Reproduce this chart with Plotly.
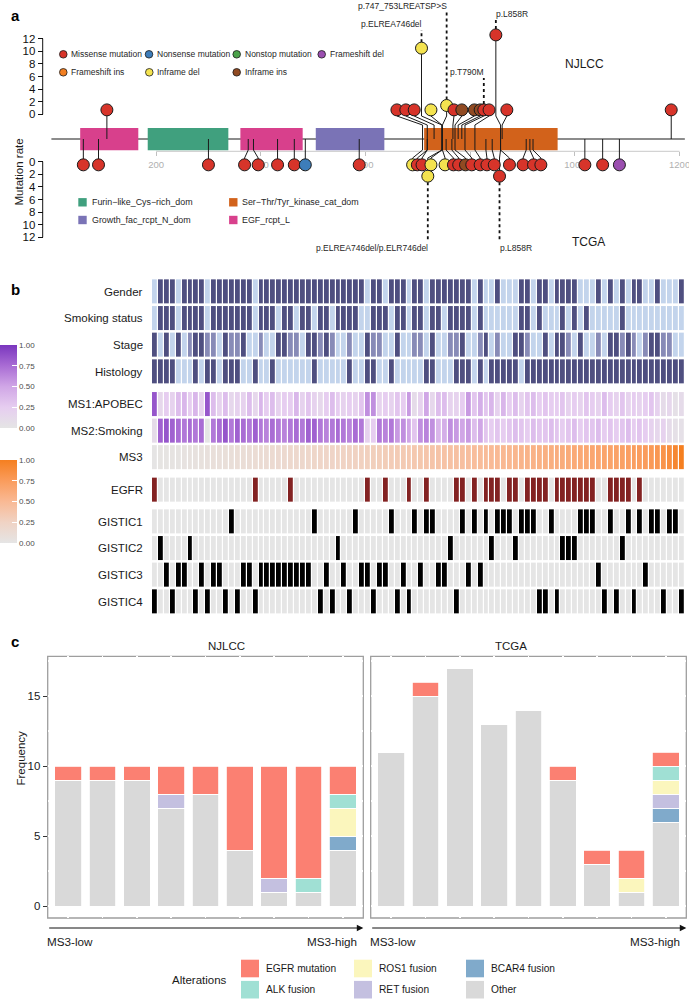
import plotly.graph_objects as go

W, H = 689, 999
FONT = "Liberation Sans, Arial, Helvetica, sans-serif"

# ======================= DATA =======================
# ---- Panel a: EGFR lollipop ----
protein_len = 1210
axis_breaks = [200, 400, 600, 800, 1000, 1200]
rate_ticks = [0, 2, 4, 6, 8, 10, 12]

domain_names = ["EGF_rcpt_L", "Furin−like_Cys−rich_dom", "EGF_rcpt_L",
                "Growth_fac_rcpt_N_dom", "Ser−Thr/Tyr_kinase_cat_dom"]
domain_start = [55, 184, 361, 505, 712]
domain_end = [166, 338, 480, 636, 967]
domain_legend = ["Furin−like_Cys−rich_dom", "Growth_fac_rcpt_N_dom",
                 "Ser−Thr/Tyr_kinase_cat_dom", "EGF_rcpt_L"]

mut_types = ["Missense mutation", "Nonsense mutation", "Nonstop mutation", "Frameshift del",
             "Frameshift ins", "Inframe del", "Inframe ins"]

# NJLCC (top track): actual residue, displayed residue, mutation rate, type
nj_pos = [106, 709, 718, 731, 746, 746, 747, 767, 771, 777, 784, 790, 809, 858, 861, 1184]
nj_disp = [106, 660, 677, 693, 707, 725, 755, 769, 784, 808, 819, 826, 836, 849, 870, 1184]
nj_rate = [0.7, 0.7, 0.7, 0.7, 10.5, 0.7, 1.4, 0.7, 0.7, 0.7, 0.7, 0.7, 0.7, 12.6, 0.7, 0.7]
nj_type = ["Missense mutation", "Missense mutation", "Missense mutation", "Missense mutation",
           "Inframe del", "Inframe del", "Inframe del", "Missense mutation",
           "Inframe ins", "Inframe ins", "Inframe ins", "Missense mutation",
           "Missense mutation", "Missense mutation", "Missense mutation", "Missense mutation"]

# TCGA (bottom track)
tc_pos = [61, 90, 300, 376, 386, 432, 464, 485, 588, 709, 718, 718, 746, 746, 747, 754, 765,
          771, 790, 809, 830, 842, 858, 858, 907, 914, 920, 1019, 1053, 1085]
tc_disp = [61, 90, 300, 369, 395, 432, 464, 485, 588, 690, 699, 708, 719, 725, 752, 768, 778,
           791, 803, 819, 832, 846, 856, 875, 901, 921, 935, 1019, 1053, 1085]
tc_rate = [0.5, 0.5, 0.5, 0.5, 0.5, 0.5, 0.5, 0.5, 0.5, 0.5, 0.5, 0.5, 2.3, 0.5, 0.5, 0.5, 0.5,
           0.5, 0.5, 0.5, 0.5, 0.5, 2.3, 0.5, 0.5, 0.5, 0.5, 0.5, 0.5, 0.5]
tc_type = ["Missense mutation", "Missense mutation", "Missense mutation", "Missense mutation",
           "Missense mutation", "Missense mutation", "Missense mutation", "Nonsense mutation",
           "Missense mutation", "Inframe del", "Missense mutation", "Missense mutation",
           "Inframe del", "Inframe del", "Inframe del", "Missense mutation", "Missense mutation",
           "Inframe ins", "Missense mutation", "Missense mutation", "Missense mutation",
           "Missense mutation", "Missense mutation", "Missense mutation", "Missense mutation",
           "Missense mutation", "Missense mutation", "Missense mutation", "Missense mutation",
           "Frameshift del"]

label_text = ["p.747_753LREATSP>S", "p.ELREA746del", "p.L858R", "p.T790M",
              "p.ELREA746del/p.ELR746del", "p.L858R"]
label_disp = [755, 707, 849, 826, 719, 856]
label_track = ["NJLCC", "NJLCC", "NJLCC", "NJLCC", "TCGA", "TCGA"]

# ---- Panel b: heatmap (90 NJLCC samples ordered by MS3) ----
row_names = ["Gender", "Smoking status", "Stage", "Histology", "MS1:APOBEC", "MS2:Smoking",
             "MS3", "EGFR", "GISTIC1", "GISTIC2", "GISTIC3", "GISTIC4"]
gender = ("LDDDLDDDDLDDDDDDDLDDDDD" "DDDDDDDDDDDDDLDDLDDDLD"
          "DLDDDDDDDLDLLDLLLDDLDDL" "DDDDLLLDLDLDLDDLLDLLLD")
smoking = ("LDDDLDDDDLDDDDDDDLDDDLD" "DLDDLDDLDDDDLLDDDLDDLD"
           "DLDDLDDDDLDLLLLLLDDLDLL" "LDLDLDLLLLLDLLLLLLLLLL")
stage = ("DLDLDLMDDMMLDMMDLLMLLDD" "MMLDDMDMLLMLLDMMLLDLLM"
         "MLDLLMMDLLMDLMLLDDMLLDL" "DDMLDLLMLDDMDMLMDDMMLL")
histology = ("DDDDLLLDLDDLDDDLLDLLDLL" "LLLLDLLLLLDLLDDLLDLLLL"
             "LDDLLLDDDLDLDDDDDLDDDDD" "DDDDDDDDDDDDDDDDDDDDDD")
ms1 = [0.85, 0.15, 0.25, 0.2, 0.35, 0.4, 0.25, 0.4, 0.2, 0.85, 0.35, 0.2, 0.35, 0.15, 0.2, 0.2,
       0.35, 0.15, 0.4, 0.25, 0.35, 0.2, 0.25,
       0.25, 0.4, 0.2, 0.3, 0.2, 0.15, 0.25, 0.35, 0.25, 0.2, 0.25, 0.2, 0.3, 0.6, 0.6, 0.2, 0.25,
       0.2, 0.3, 0.25, 0.55, 0.1,
       0.2, 0.5, 0.15, 0.35, 0.35, 0.2, 0.2, 0.25, 0.55, 0.3, 0.45, 0.3, 0.4, 0.2, 0.4, 0.25,
       0.35, 0.2, 0.3, 0.35, 0.25, 0.3, 0.25,
       0.25, 0.3, 0.2, 0.25, 0.2, 0.3, 0.25, 0.2, 0.35, 0.25, 0.2, 0.3, 0.2, 0.25, 0.2, 0.25,
       0.3, 0.2, 0.1, 0.15, 0.05, 0.1]
ms2 = [0.1, 0.8, 0.85, 0.8, 0.75, 0.7, 0.75, 0.7, 0.75, 0.0, 0.7, 0.75, 0.85, 0.7, 0.8, 0.75,
       0.7, 0.8, 0.7, 0.65, 0.75, 0.7, 0.65,
       0.7, 0.75, 0.7, 0.8, 0.8, 0.7, 0.65, 0.7, 0.75, 0.7, 0.65, 0.75, 0.7, 0.2, 0.25, 0.7,
       0.65, 0.7, 0.55, 0.6, 0.5, 0.3,
       0.6, 0.65, 0.6, 0.4, 0.45, 0.6, 0.55, 0.5, 0.55, 0.35, 0.5, 0.3, 0.25, 0.3, 0.25, 0.3,
       0.35, 0.3, 0.25, 0.35, 0.3, 0.3, 0.35,
       0.3, 0.25, 0.3, 0.35, 0.25, 0.3, 0.3, 0.35, 0.25, 0.3, 0.25, 0.3, 0.35, 0.25, 0.3, 0.25,
       0.2, 0.15, 0.2, 0.1, 0.05, 0.05]
ms3 = [0.01, 0.02, 0.02, 0.03, 0.03, 0.04, 0.05, 0.05, 0.06, 0.07, 0.08, 0.08, 0.09, 0.10,
       0.11, 0.11, 0.12, 0.13, 0.14, 0.14, 0.15, 0.16, 0.17,
       0.18, 0.18, 0.19, 0.20, 0.21, 0.22, 0.22, 0.23, 0.24, 0.25, 0.26, 0.26, 0.27, 0.28, 0.29,
       0.30, 0.31, 0.32, 0.33, 0.34, 0.35, 0.36,
       0.37, 0.38, 0.39, 0.40, 0.41, 0.42, 0.43, 0.44, 0.45, 0.46, 0.47, 0.48, 0.49, 0.50, 0.51,
       0.52, 0.53, 0.54, 0.55, 0.56, 0.57, 0.58, 0.59,
       0.60, 0.61, 0.62, 0.63, 0.64, 0.65, 0.66, 0.67, 0.68, 0.69, 0.70, 0.71, 0.72, 0.73, 0.74,
       0.75, 0.77, 0.79, 0.82, 0.87, 0.93, 1.00]
egfr_mut = [0, 17, 23, 36, 39, 43, 46, 51, 52, 54, 56, 57, 58, 60, 61, 63, 64, 65, 66, 68, 69,
            70, 71, 72, 73, 74, 77, 78, 79, 80, 82]
gistic1 = [13, 27, 34, 40, 44, 46, 47, 52, 54, 56, 58, 59, 60, 62, 63, 64, 67, 72, 73, 74, 77,
           80, 82, 84, 85, 87, 88]
gistic2 = [1, 6, 31, 50, 57, 61, 69, 70, 71, 79]
gistic3 = [2, 4, 5, 8, 10, 11, 15, 16, 18, 19, 20, 21, 22, 23, 24, 25, 26, 29, 32, 35, 36, 38,
           39, 42, 45, 48, 49, 53, 55, 75, 83]
gistic4 = [0, 3, 7, 9, 12, 14, 17, 28, 30, 33, 37, 41, 43, 51, 65, 66, 68, 76, 78, 81, 86, 89]
n_samples = 90
colorbar_ticks = [0, 0.25, 0.5, 0.75, 1.0]

# ---- Panel c: stacked bars ----
alterations = ["Other", "BCAR4 fusion", "RET fusion", "ROS1 fusion", "ALK fusion", "EGFR mutation"]
nj_other = [9, 9, 9, 7, 8, 4, 1, 1, 4]
nj_bcar4 = [0, 0, 0, 0, 0, 0, 0, 0, 1]
nj_ret = [0, 0, 0, 1, 0, 0, 1, 0, 0]
nj_ros1 = [0, 0, 0, 0, 0, 0, 0, 0, 2]
nj_alk = [0, 0, 0, 0, 0, 0, 0, 1, 1]
nj_egfr = [1, 1, 1, 2, 2, 6, 8, 8, 2]
tc_other = [11, 15, 17, 13, 14, 9, 3, 1, 6]
tc_bcar4 = [0, 0, 0, 0, 0, 0, 0, 0, 1]
tc_ret = [0, 0, 0, 0, 0, 0, 0, 0, 1]
tc_ros1 = [0, 0, 0, 0, 0, 0, 0, 1, 1]
tc_alk = [0, 0, 0, 0, 0, 0, 0, 0, 1]
tc_egfr = [0, 1, 0, 0, 0, 1, 1, 2, 1]
freq_ticks = [0, 5, 10, 15]
legend_order = ["EGFR mutation", "ALK fusion", "ROS1 fusion", "RET fusion", "BCAR4 fusion", "Other"]

# ======================= STYLE / LAYOUT =======================
def px2x(p): return p / W
def px2y(p): return 1 - p / H

mut_colors = {"Missense mutation": "#d7342a", "Nonsense mutation": "#3d7dba",
              "Nonstop mutation": "#4aa24a", "Frameshift del": "#9b4fb0",
              "Frameshift ins": "#f27f22", "Inframe del": "#f4e34f", "Inframe ins": "#904a22"}
domain_colors = {"EGF_rcpt_L": "#d8408c", "Furin−like_Cys−rich_dom": "#40a07e",
                 "Growth_fac_rcpt_N_dom": "#7a73b6", "Ser−Thr/Tyr_kinase_cat_dom": "#d2621b"}
alt_colors = {"EGFR mutation": "#fb8072", "ALK fusion": "#a0e0d4", "ROS1 fusion": "#fbf6bd",
              "RET fusion": "#c4c0e0", "BCAR4 fusion": "#80aacb", "Other": "#d9d9d9"}

# panel a vertical scale: u units, backbone at u=0 (px 139), 6.3 px per unit
A_PX0, A_SCALE = 139.0, 6.3
TOP_OFF, BOT_OFF = 3.92, 3.6
def top_u(v): return TOP_OFF + v
def bot_u(v): return -(BOT_OFF + v)
def pxu(p): return (A_PX0 - p) / A_SCALE

fig = go.Figure()
shapes = []
ann = []

# ---------- Panel a ----------
shapes.append(dict(type="line", xref="x", yref="y", x0=0, x1=protein_len, y0=0, y1=0,
                   line=dict(color="#1a1a1a", width=1.2), layer="below"))
shapes.append(dict(type="line", xref="x", yref="y", x0=axis_breaks[0], x1=axis_breaks[-1],
                   y0=pxu(151.3), y1=pxu(151.3), line=dict(color="#c8c8c8", width=1), layer="below"))
for nm, s, e in zip(domain_names, domain_start, domain_end):
    shapes.append(dict(type="rect", xref="x", yref="y", x0=s, x1=e, y0=pxu(150.3), y1=pxu(128),
                       fillcolor=domain_colors[nm], line=dict(width=0), layer="below"))

# stems
sx, sy = [], []
for a, d, v in zip(nj_pos, nj_disp, nj_rate):
    sx += [a, a, d, d, None]
    sy += [0, pxu(125), pxu(116), top_u(v), None]
for a, d, v in zip(tc_pos, tc_disp, tc_rate):
    sx += [a, a, d, d, None]
    sy += [0, pxu(150), pxu(158), bot_u(v), None]
fig.add_trace(go.Scatter(x=sx, y=sy, mode="lines", line=dict(color="#1a1a1a", width=1),
                         hoverinfo="skip", showlegend=False))

# dotted label leaders
LABEL_FONT = dict(size=8.5, color="#262626")
label_y_px = {"p.747_753LREATSP>S": 6, "p.ELREA746del": 24, "p.T790M": 72}
for t, d, tr in zip(label_text, label_disp, label_track):
    right = t != "p.L858R"
    if tr == "NJLCC":
        i = nj_disp.index(d)
        cy = top_u(nj_rate[i])
        ly = label_y_px.get(t, 14)
        fig.add_trace(go.Scatter(x=[d, d], y=[cy, pxu(ly + 6)], mode="lines",
                                 line=dict(color="#111", width=1.8, dash="dot"),
                                 hoverinfo="skip", showlegend=False))
    else:
        i = tc_disp.index(d)
        cy = bot_u(tc_rate[i])
        ly = 248
        fig.add_trace(go.Scatter(x=[d, d], y=[cy, pxu(242)], mode="lines",
                                 line=dict(color="#111", width=1.8, dash="dot"),
                                 hoverinfo="skip", showlegend=False))
    ann.append(dict(x=d, y=pxu(ly), xref="x", yref="y", text=t, showarrow=False,
                    xanchor="right" if right else "left", yanchor="middle",
                    xshift=2 if right else -2, font=LABEL_FONT))

# circles
fig.add_trace(go.Scatter(x=nj_disp, y=[top_u(v) for v in nj_rate], mode="markers",
                         marker=dict(size=12, color=[mut_colors[t] for t in nj_type],
                                     line=dict(color="#1a1a1a", width=1)),
                         hoverinfo="skip", showlegend=False))
fig.add_trace(go.Scatter(x=tc_disp, y=[bot_u(v) for v in tc_rate], mode="markers",
                         marker=dict(size=12, color=[mut_colors[t] for t in tc_type],
                                     line=dict(color="#1a1a1a", width=1)),
                         hoverinfo="skip", showlegend=False))

# y-axis segments for the two tracks
yax_px = 42.7
shapes.append(dict(type="line", xref="paper", yref="y", x0=px2x(yax_px), x1=px2x(yax_px),
                   y0=top_u(0), y1=top_u(12), line=dict(color="#111", width=1)))
shapes.append(dict(type="line", xref="paper", yref="y", x0=px2x(yax_px), x1=px2x(yax_px),
                   y0=bot_u(0), y1=bot_u(12), line=dict(color="#111", width=1)))

# mutation legend
mut_leg_pos = [(63.3, 54.3), (149, 54.3), (236.7, 54.3), (321.7, 54.3),
               (63.3, 72.3), (149.3, 72.3), (236.7, 72.3)]
for t, (cx, cy) in zip(mut_types, mut_leg_pos):
    r = 3.8
    shapes.append(dict(type="circle", xref="paper", yref="paper",
                       x0=px2x(cx - r), x1=px2x(cx + r), y0=px2y(cy + r), y1=px2y(cy - r),
                       fillcolor=mut_colors[t], line=dict(color="#1a1a1a", width=0.8)))
    ann.append(dict(x=px2x(cx + 6), y=px2y(cy), xref="paper", yref="paper", text=t,
                    showarrow=False, xanchor="left", yanchor="middle",
                    font=dict(size=8.5, color="#262626")))

# domain legend
dom_leg_pos = [(82.5, 202.3), (82.5, 220), (233.3, 202.3), (233.3, 220)]
for nm, (cx, cy) in zip(domain_legend, dom_leg_pos):
    r = 4.2
    shapes.append(dict(type="rect", xref="paper", yref="paper",
                       x0=px2x(cx - r), x1=px2x(cx + r), y0=px2y(cy + r), y1=px2y(cy - r),
                       fillcolor=domain_colors[nm], line=dict(width=0)))
    ann.append(dict(x=px2x(cx + 7), y=px2y(cy), xref="paper", yref="paper", text=nm,
                    showarrow=False, xanchor="left", yanchor="middle",
                    font=dict(size=8.9, color="#262626")))

ann.append(dict(x=px2x(606), y=px2y(55), xref="paper", yref="paper", text="NJLCC",
                showarrow=False, font=dict(size=12, color="#1a1a1a")))
ann.append(dict(x=px2x(607), y=px2y(233), xref="paper", yref="paper", text="TCGA",
                showarrow=False, font=dict(size=12, color="#1a1a1a")))
ann.append(dict(x=px2x(10), y=px2y(137), xref="paper", yref="paper", text="Mutation rate",
                showarrow=False, textangle=-90, font=dict(size=11.5, color="#1a1a1a")))

# ---------- Panel b ----------
row_center = [291.5, 318.2, 344.8, 371.5, 404.2, 430.8, 457.3, 489.8, 521.5, 548.2, 574.8, 601.5]
CELL_H = 24.3
GREY = "#e5e5e5"
cat_scale = [[0, "#c3d4ec"], [0.5, "#888bb7"], [1, "#4f4f80"]]
cat_code = {"L": 0, "M": 1, "D": 2}
purple_scale = [[0, GREY], [0.25, "#e6cdf0"], [0.5, "#d0a6e6"], [0.75, "#a96cd4"], [1, "#7a36be"]]
orange_scale = [[0, GREY], [0.25, "#f0d3c4"], [0.5, "#f9b994"], [0.75, "#fa9c5c"], [1, "#f57f20"]]

def binary(idx):
    return [1 if i in idx else 0 for i in range(n_samples)]

def cbar(yc):
    return dict(x=0.0, xanchor="left", y=px2y(yc), yanchor="middle", len=83,
                lenmode="pixels", thickness=17, thicknessmode="pixels", xpad=0, ypad=0,
                outlinewidth=0, ticks="inside", ticklen=5, tickcolor="white", tickwidth=1,
                tickvals=colorbar_ticks, ticktext=["%.2f" % v for v in colorbar_ticks],
                tickfont=dict(size=8, color="#4d4d4d"))

rows = [
    ([cat_code[c] for c in gender], cat_scale, 0, 2, None),
    ([cat_code[c] for c in smoking], cat_scale, 0, 2, None),
    ([cat_code[c] for c in stage], cat_scale, 0, 2, None),
    ([cat_code[c] for c in histology], cat_scale, 0, 2, None),
    (ms1, purple_scale, 0, 1, cbar(386.5)),
    (ms2, purple_scale, 0, 1, None),
    (ms3, orange_scale, 0, 1, cbar(501.5)),
    (binary(egfr_mut), [[0, GREY], [1, "#832222"]], 0, 1, None),
    (binary(gistic1), [[0, GREY], [1, "#000000"]], 0, 1, None),
    (binary(gistic2), [[0, GREY], [1, "#000000"]], 0, 1, None),
    (binary(gistic3), [[0, GREY], [1, "#000000"]], 0, 1, None),
    (binary(gistic4), [[0, GREY], [1, "#000000"]], 0, 1, None),
]
for (vals, cs, zmin, zmax, cb), yc, nm in zip(rows, row_center, row_names):
    kw = dict(showscale=cb is not None)
    if cb is not None:
        kw["colorbar"] = cb
    fig.add_trace(go.Heatmap(z=[vals], x0=0, dx=1, y0=yc, dy=CELL_H, xaxis="x2", yaxis="y2",
                             colorscale=cs, zmin=zmin, zmax=zmax, xgap=1.2,
                             hoverinfo="skip", **kw))
    ann.append(dict(x=px2x(145), y=px2y(yc), xref="paper", yref="paper", text=nm,
                    showarrow=False, xanchor="right", yanchor="middle",
                    font=dict(size=11.5, color="#1a1a1a")))

# ---------- Panel c ----------
nj_series = {"Other": nj_other, "BCAR4 fusion": nj_bcar4, "RET fusion": nj_ret,
             "ROS1 fusion": nj_ros1, "ALK fusion": nj_alk, "EGFR mutation": nj_egfr}
tc_series = {"Other": tc_other, "BCAR4 fusion": tc_bcar4, "RET fusion": tc_ret,
             "ROS1 fusion": tc_ros1, "ALK fusion": tc_alk, "EGFR mutation": tc_egfr}
groups = list(range(9))
for series, xa, ya in [(nj_series, "x3", "y3"), (tc_series, "x4", "y4")]:
    for alt in alterations:
        fig.add_trace(go.Bar(x=groups, y=series[alt], xaxis=xa, yaxis=ya, width=0.78,
                             marker=dict(color=alt_colors[alt], line=dict(color="white", width=0.8)),
                             hoverinfo="skip", showlegend=False))

for xr, yr in [("x3 domain", "y3 domain"), ("x4 domain", "y4 domain")]:
    shapes.append(dict(type="rect", xref=xr, yref=yr, x0=0, x1=1, y0=0, y1=1,
                       line=dict(color="#9e9e9e", width=1.3), fillcolor="rgba(0,0,0,0)",
                       layer="below"))

c_left = [47.7, 370.7]
c_right = [363.3, 686.3]
for title, l, r in zip(["NJLCC", "TCGA"], c_left, c_right):
    ann.append(dict(x=px2x((l + r) / 2), y=px2y(646), xref="paper", yref="paper", text=title,
                    showarrow=False, font=dict(size=11.5, color="#1a1a1a")))
    ann.append(dict(x=px2x(r), y=px2y(928), ax=-(r - l), ay=0, xref="paper", yref="paper",
                    axref="pixel", ayref="pixel", text="", showarrow=True, arrowhead=2,
                    arrowsize=1.3, arrowwidth=1, arrowcolor="#111", standoff=0))
    ann.append(dict(x=px2x(l - 3), y=px2y(941), xref="paper", yref="paper", text="MS3-low",
                    showarrow=False, xanchor="left", yanchor="middle",
                    font=dict(size=11.7, color="#1a1a1a")))
    ann.append(dict(x=px2x(r - 4), y=px2y(941), xref="paper", yref="paper", text="MS3-high",
                    showarrow=False, xanchor="right", yanchor="middle",
                    font=dict(size=11.7, color="#1a1a1a")))

ann.append(dict(x=px2x(12), y=px2y(788), xref="paper", yref="paper", text="Frequency",
                showarrow=False, textangle=-90, font=dict(size=11.5, color="#1a1a1a")))

# panel c legend
ann.append(dict(x=px2x(229), y=px2y(980), xref="paper", yref="paper", text="Alterations",
                showarrow=False, xanchor="right", yanchor="middle",
                font=dict(size=11.5, color="#1a1a1a")))
leg_cols = [241, 354, 466]
leg_rows = [968.5, 989.7]
for k, alt in enumerate(legend_order):
    kx = leg_cols[k // 2]
    ky = leg_rows[k % 2]
    shapes.append(dict(type="rect", xref="paper", yref="paper", x0=px2x(kx), x1=px2x(kx + 18),
                       y0=px2y(ky + 8.8), y1=px2y(ky - 8.8), fillcolor=alt_colors[alt],
                       line=dict(width=0)))
    ann.append(dict(x=px2x(kx + 23), y=px2y(ky), xref="paper", yref="paper", text=alt,
                    showarrow=False, xanchor="left", yanchor="middle",
                    font=dict(size=10.2, color="#1a1a1a")))

# panel letters
for letter, (lx, ly) in zip(["a", "b", "c"], [(8.5, 5), (9, 279), (8.5, 641)]):
    ann.append(dict(x=px2x(lx), y=px2y(ly), xref="paper", yref="paper",
                    text="<b>%s</b>" % letter, showarrow=False,
                    font=dict(size=15, color="#000")))

# ======================= AXES =======================
a_top_px, a_bot_px = 0, 255
fig.update_layout(
    width=W, height=H, margin=dict(l=0, r=0, t=0, b=0, pad=0, autoexpand=False),
    paper_bgcolor="white", plot_bgcolor="white", showlegend=False,
    font=dict(family=FONT, color="#1a1a1a"), barmode="stack",
    shapes=shapes, annotations=ann,
    xaxis=dict(domain=[0, 1], range=[-51.4 / 0.5235, (W - 51.4) / 0.5235], anchor="free",
               position=px2y(151.3), tickvals=axis_breaks, ticks="outside", ticklen=4,
               tickcolor="#c0c0c0", tickfont=dict(size=9.5, color="#b0b0b0"),
               ticklabeloverflow="allow",
               showgrid=False, zeroline=False, showline=False, layer="below traces",
               fixedrange=True, automargin=False),
    yaxis=dict(domain=[px2y(a_bot_px), px2y(a_top_px)],
               range=[pxu(a_bot_px), pxu(a_top_px)], anchor="free", position=px2x(yax_px),
               tickvals=[top_u(v) for v in rate_ticks] + [bot_u(v) for v in rate_ticks],
               ticktext=[str(v) for v in rate_ticks] * 2, ticks="outside", ticklen=5,
               tickcolor="#111", tickfont=dict(size=11.5, color="#111"),
               showgrid=False, zeroline=False, showline=False, automargin=False),
    xaxis2=dict(domain=[px2x(152), px2x(684.8)], range=[-0.5, n_samples - 0.5], anchor="y2",
                visible=False),
    yaxis2=dict(domain=[px2y(616), px2y(272)], range=[616, 272], anchor="x2", visible=False),
    xaxis3=dict(domain=[px2x(c_left[0]), px2x(c_right[0])], range=[-0.6, 8.6], anchor="y3",
                tickvals=groups, showticklabels=False, ticks="", showgrid=True,
                gridcolor="white", gridwidth=1.6, zeroline=False, showline=False,
                automargin=False),
    yaxis3=dict(domain=[px2y(918), px2y(656.3)], range=[-0.85, 17.85], anchor="x3",
                tickvals=freq_ticks, ticks="outside", ticklen=4, tickcolor="#333",
                tickfont=dict(size=11.5, color="#1a1a1a"), showgrid=True, gridcolor="white",
                gridwidth=1.6, minor=dict(dtick=2.5, tick0=0, showgrid=True, gridcolor="white",
                                          gridwidth=1.6, ticks=""),
                zeroline=False, showline=False, automargin=False),
    xaxis4=dict(domain=[px2x(c_left[1]), px2x(c_right[1])], range=[-0.6, 8.6], anchor="y4",
                tickvals=groups, showticklabels=False, ticks="", showgrid=True,
                gridcolor="white", gridwidth=1.6, zeroline=False, showline=False,
                automargin=False),
    yaxis4=dict(domain=[px2y(918), px2y(656.3)], range=[-0.85, 17.85], anchor="x4",
                matches="y3", tickvals=freq_ticks, showticklabels=False, ticks="",
                showgrid=True, gridcolor="white", gridwidth=1.6,
                minor=dict(dtick=2.5, tick0=0, showgrid=True, gridcolor="white",
                           gridwidth=1.6, ticks=""),
                zeroline=False, showline=False, automargin=False),
)

fig.write_html("out.html", config={"displayModeBar": False, "staticPlot": True},
               post_script="document.body.style.margin='0px';document.body.style.overflow='hidden';")
